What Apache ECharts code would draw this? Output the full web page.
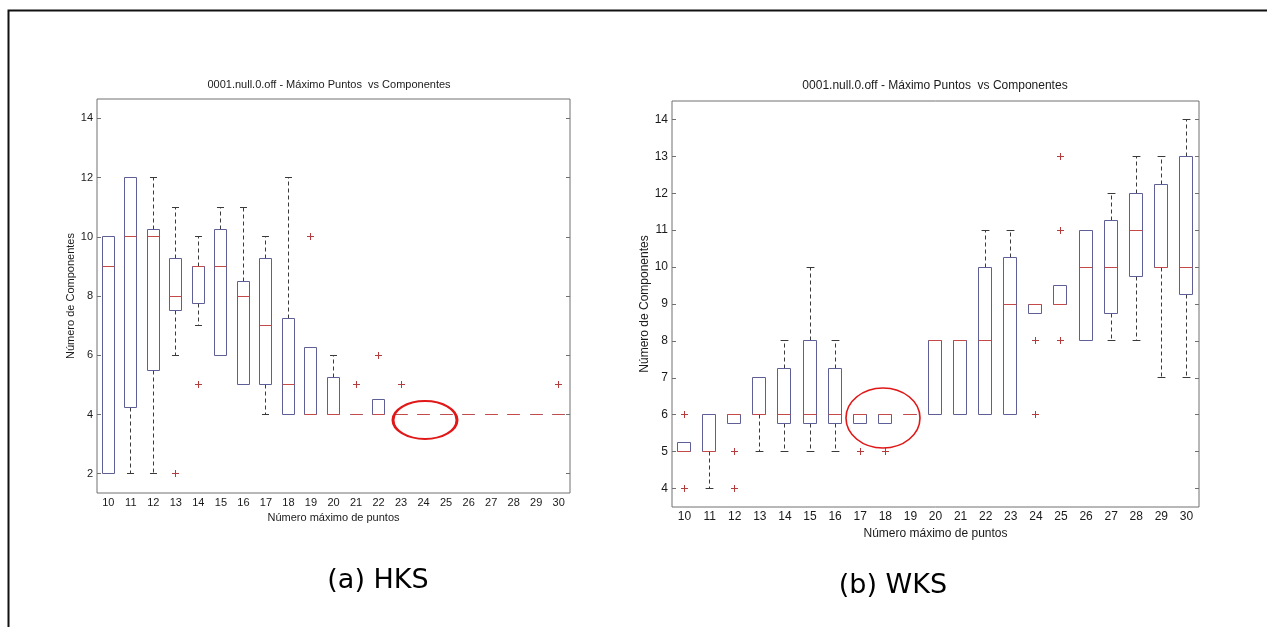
<!DOCTYPE html>
<html>
<head>
<meta charset="utf-8">
<title>Máximo Puntos vs Componentes</title>
<script src="https://cdn.jsdelivr.net/npm/echarts@6/dist/echarts.min.js"></script>
<style>
    html, body { margin: 0; padding: 0; background: #fff; }
    #main { width: 1267px; height: 627px; }
</style>
</head>
<body>
<div id="main"></div>
<script>
    // categorias (numero maximo de puntos)
    var categories = ['10', '11', '12', '13', '14', '15', '16', '17', '18', '19', '20',
        '21', '22', '23', '24', '25', '26', '27', '28', '29', '30'];
    var hksTicks = [2, 4, 6, 8, 10, 12, 14];
    var wksTicks = [4, 5, 6, 7, 8, 9, 10, 11, 12, 13, 14];

    // (a) HKS
    var hksLow  = [2, 2, 2, 6, 7, 6, 5, 4, 4, 4, 4, 4, 4, 4, 4, 4, 4, 4, 4, 4, 4];
    var hksQ1   = [2, 4.25, 5.5, 7.5, 7.75, 6, 5, 5, 4, 4, 4, 4, 4, 4, 4, 4, 4, 4, 4, 4, 4];
    var hksMed  = [9, 10, 10, 8, 9, 9, 8, 7, 5, 4, 4, 4, 4, 4, 4, 4, 4, 4, 4, 4, 4];
    var hksQ3   = [10, 12, 10.25, 9.25, 9, 10.25, 8.5, 9.25, 7.25, 6.25, 5.25, 4, 4.5, 4, 4, 4, 4, 4, 4, 4, 4];
    var hksHigh = [10, 12, 12, 11, 10, 11, 11, 10, 12, 6.25, 6, 4, 4.5, 4, 4, 4, 4, 4, 4, 4, 4];
    var hksOutliers = [['13', 2], ['14', 5], ['19', 10], ['21', 5], ['22', 6], ['23', 5], ['30', 5]];

    // (b) WKS
    var wksLow  = [5, 4, 5.75, 5, 5, 5, 5, 5.75, 5.75, 6, 6, 6, 6, 6, 8.75, 9, 8, 8, 8, 7, 7];
    var wksQ1   = [5, 5, 5.75, 6, 5.75, 5.75, 5.75, 5.75, 5.75, 6, 6, 6, 6, 6, 8.75, 9, 8, 8.75, 9.75, 10, 9.25];
    var wksMed  = [5, 5, 6, 6, 6, 6, 6, 6, 6, 6, 8, 8, 8, 9, 9, 9, 10, 10, 11, 10, 10];
    var wksQ3   = [5.25, 6, 6, 7, 7.25, 8, 7.25, 6, 6, 6, 8, 8, 10, 10.25, 9, 9.5, 11, 11.25, 12, 12.25, 13];
    var wksHigh = [5.25, 6, 6, 7, 8, 10, 8, 6, 6, 6, 8, 8, 11, 11, 9, 9.5, 11, 12, 13, 13, 14];
    var wksOutliers = [['10', 6], ['10', 4], ['12', 5], ['12', 4], ['17', 5], ['18', 5],
        ['24', 8], ['24', 6], ['25', 13], ['25', 11], ['25', 8]];

    var titleText = '0001.null.0.off - Máximo Puntos  vs Componentes';
    var BOX = '#5f5f98', MED = '#c44a4a', WHISK = '#3a3a3a', OUT = '#b43c3c', FRAME = '#707070';
    var SANS = '"Liberation Sans", Arial, sans-serif';

    function crisp(v) { return Math.round(v - 0.5) + 0.5; }

    function boxData(low, q1, med, q3, high) {
        var d = [];
        for (var i = 0; i < categories.length; i++) d.push([i, low[i], q1[i], med[i], q3[i], high[i]]);
        return d;
    }

    function outlierData(list) {
        return list.map(function (o) { return [categories.indexOf(o[0]), o[1]]; });
    }

    function renderBox(params, api) {
        var i = api.value(0);
        var band = api.size([1, 0])[0];
        var hw = band * 0.26, cw = hw * 0.6;
        var x = crisp(api.coord([i, 0])[0]);
        var yLow = crisp(api.coord([i, api.value(1)])[1]);
        var yQ1 = crisp(api.coord([i, api.value(2)])[1]);
        var yMed = crisp(api.coord([i, api.value(3)])[1]);
        var yQ3 = crisp(api.coord([i, api.value(4)])[1]);
        var yHigh = crisp(api.coord([i, api.value(5)])[1]);
        var c = [];
        var dash = {stroke: WHISK, lineWidth: 1, lineDash: [4, 3]};
        var cap = {stroke: WHISK, lineWidth: 1};
        if (yHigh < yQ3) {
            c.push({type: 'line', shape: {x1: x, y1: yQ3, x2: x, y2: yHigh}, style: dash});
            c.push({type: 'line', shape: {x1: x - cw, y1: yHigh, x2: x + cw, y2: yHigh}, style: cap});
        }
        if (yLow > yQ1) {
            c.push({type: 'line', shape: {x1: x, y1: yQ1, x2: x, y2: yLow}, style: dash});
            c.push({type: 'line', shape: {x1: x - cw, y1: yLow, x2: x + cw, y2: yLow}, style: cap});
        }
        c.push({type: 'rect', shape: {x: crisp(x - hw), y: yQ3, width: Math.round(2 * hw), height: yQ1 - yQ3},
            style: {fill: 'none', stroke: BOX, lineWidth: 1}});
        c.push({type: 'line', shape: {x1: crisp(x - hw), y1: yMed, x2: crisp(x - hw) + Math.round(2 * hw), y2: yMed},
            style: {stroke: MED, lineWidth: 1}});
        return {type: 'group', children: c};
    }

    function renderPlus(params, api) {
        var p = api.coord([api.value(0), api.value(1)]);
        var x = crisp(p[0]), y = crisp(p[1]), s = 3.5;
        return {type: 'group', children: [
            {type: 'line', shape: {x1: x - s, y1: y, x2: x + s, y2: y}, style: {stroke: OUT, lineWidth: 1}},
            {type: 'line', shape: {x1: x, y1: y - s, x2: x, y2: y + s}, style: {stroke: OUT, lineWidth: 1}}
        ]};
    }

    function xAxisFor(gi, fs, gap) {
        return {
            type: 'category', gridIndex: gi, data: categories,
            axisLine: {show: false}, axisTick: {show: false},
            axisLabel: {interval: 0, margin: 4, fontSize: fs, color: '#1a1a1a', fontFamily: SANS},
            splitLine: {show: false},
            name: 'Número máximo de puntos', nameLocation: 'middle', nameGap: gap,
            nameTextStyle: {fontSize: fs, color: '#1a1a1a', fontFamily: SANS}
        };
    }

    function yAxesFor(gi, ticks, min, max, fs, gap) {
        return [{
            type: 'value', gridIndex: gi, min: min, max: max, position: 'left',
            axisLine: {show: false},
            axisTick: {show: true, inside: true, length: 4, customValues: ticks, lineStyle: {color: FRAME}},
            axisLabel: {customValues: ticks, margin: 4, fontSize: fs, color: '#1a1a1a', fontFamily: SANS},
            splitLine: {show: false},
            name: 'Número de Componentes', nameLocation: 'middle', nameGap: gap,
            nameTextStyle: {fontSize: fs, color: '#1a1a1a', fontFamily: SANS}
        }, {
            type: 'value', gridIndex: gi, min: min, max: max, position: 'right',
            axisLine: {show: false},
            axisTick: {show: true, inside: true, length: 4, customValues: ticks, lineStyle: {color: FRAME}},
            axisLabel: {show: false},
            splitLine: {show: false}
        }];
    }

    var chart = echarts.init(document.getElementById('main'), null, {renderer: 'canvas'});
    chart.setOption({
        animation: false,
        backgroundColor: '#fff',
        textStyle: {fontFamily: SANS},
        grid: [
            {left: 97, top: 99, width: 473, height: 394, show: true, borderColor: FRAME, borderWidth: 1,
                backgroundColor: '#fff', outerBoundsMode: 'none'},
            {left: 672, top: 101, width: 527, height: 406, show: true, borderColor: FRAME, borderWidth: 1,
                backgroundColor: '#fff', outerBoundsMode: 'none'}
        ],
        xAxis: [xAxisFor(0, 11, 17), xAxisFor(1, 12, 19)],
        yAxis: yAxesFor(0, hksTicks, 1.35, 14.65, 11, 15).concat(yAxesFor(1, wksTicks, 3.5, 14.5, 12, 21)),
        series: [
            {name: 'HKS', type: 'custom', xAxisIndex: 0, yAxisIndex: 0, silent: true,
                renderItem: renderBox, data: boxData(hksLow, hksQ1, hksMed, hksQ3, hksHigh)},
            {name: 'HKS outliers', type: 'custom', xAxisIndex: 0, yAxisIndex: 0, silent: true,
                renderItem: renderPlus, data: outlierData(hksOutliers)},
            {name: 'WKS', type: 'custom', xAxisIndex: 1, yAxisIndex: 2, silent: true,
                renderItem: renderBox, data: boxData(wksLow, wksQ1, wksMed, wksQ3, wksHigh)},
            {name: 'WKS outliers', type: 'custom', xAxisIndex: 1, yAxisIndex: 2, silent: true,
                renderItem: renderPlus, data: outlierData(wksOutliers)}
        ],
        graphic: [
            // marco exterior (solo izquierda y arriba)
            {type: 'polyline', silent: true, shape: {points: [[8.5, 627], [8.5, 10.5], [1267, 10.5]]},
                style: {stroke: '#111', lineWidth: 2, fill: 'none'}},
            {type: 'text', silent: true, x: 329, y: 85,
                style: {text: titleText, font: '11px ' + SANS, fill: '#1a1a1a', align: 'center', verticalAlign: 'middle'}},
            {type: 'text', silent: true, x: 935, y: 86,
                style: {text: titleText, font: '12px ' + SANS, fill: '#1a1a1a', align: 'center', verticalAlign: 'middle'}},
            {type: 'text', silent: true, x: 378, y: 581,
                style: {text: '(a) HKS', font: '27px "DejaVu Sans"', fill: '#000', align: 'center', verticalAlign: 'middle'}},
            {type: 'text', silent: true, x: 893, y: 586,
                style: {text: '(b) WKS', font: '27px "DejaVu Sans"', fill: '#000', align: 'center', verticalAlign: 'middle'}},
            // elipses rojas de anotacion
            {type: 'circle', silent: true, x: 425, y: 420, scaleX: 32 / 19, scaleY: 1, shape: {cx: 0, cy: 0, r: 19},
                style: {fill: 'none', stroke: '#e01818', lineWidth: 2 * 19 / 32 + 0.6}, z: 10},
            {type: 'circle', silent: true, x: 883, y: 418, scaleX: 37 / 30, scaleY: 1, shape: {cx: 0, cy: 0, r: 30},
                style: {fill: 'none', stroke: '#e01818', lineWidth: 1.3}, z: 10}
        ]
    });
</script>
</body>
</html>
